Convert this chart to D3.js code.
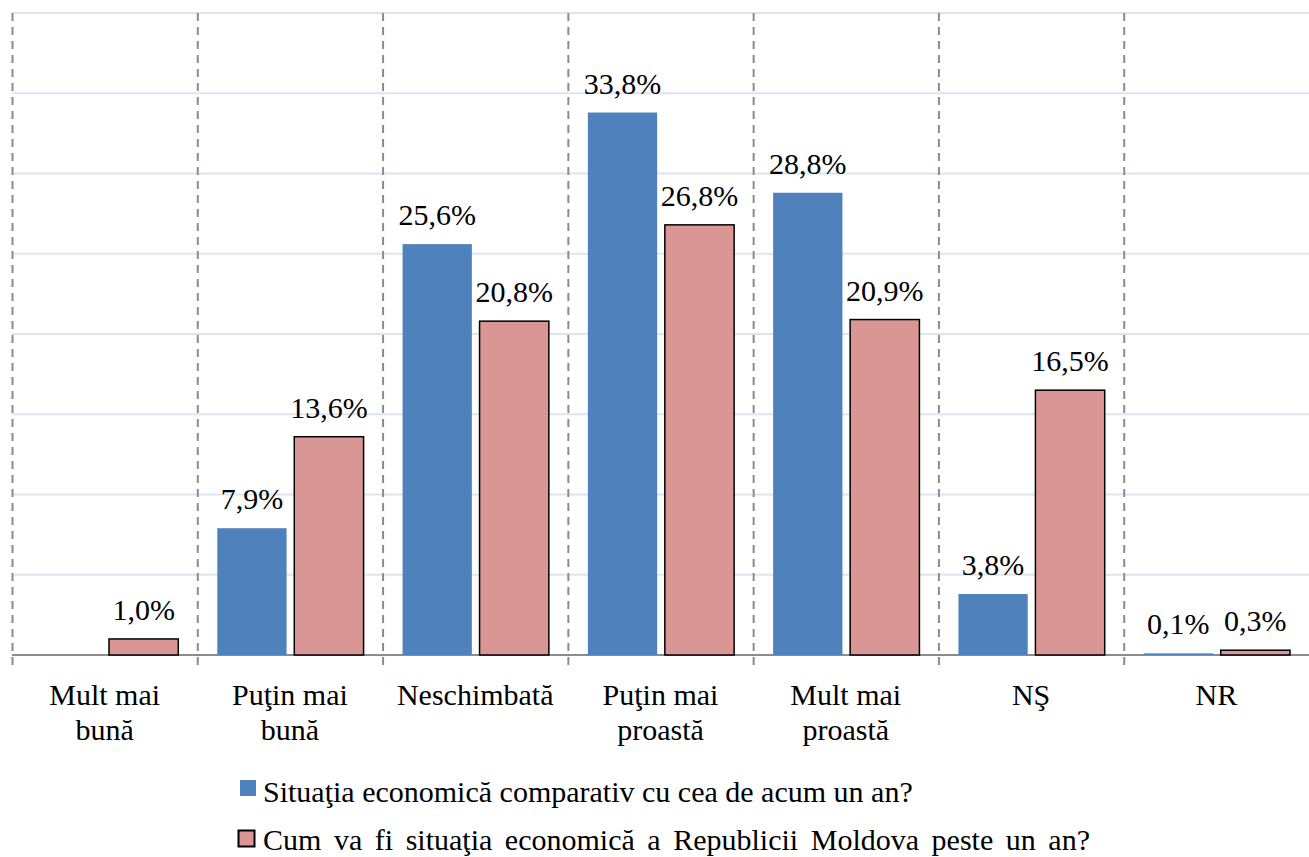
<!DOCTYPE html>
<html>
<head>
<meta charset="utf-8">
<script src="https://cdn.jsdelivr.net/npm/d3@7"></script>
</head>
<body style="margin:0">
<svg width="1309" height="857"></svg>
<script>
// data
categories = [["Mult mai", "bună"], ["Puţin mai", "bună"], ["Neschimbată"], ["Puţin mai", "proastă"], ["Mult mai", "proastă"], ["NŞ"], ["NR"]];
seriesNames = ["Situaţia economică comparativ cu cea de acum un an?", "Cum va fi situaţia economică a Republicii Moldova peste un an?"];
seriesNow = [0, 7.9, 25.6, 33.8, 28.8, 3.8, 0.1];
seriesNext = [1.0, 13.6, 20.8, 26.8, 20.9, 16.5, 0.3];
yTicks = [0, 5, 10, 15, 20, 25, 30, 35, 40];

const fills = ["#4f81bd", "#d99694"];
const strokes = [null, "#000"];
const fontName = "Liberation Serif";
const fontSize = 30;

const svg = d3.select("svg");
const plotLeft = 12, plotRight = 1309, base = 655, plotTop = 13;

const x = d3.scaleBand()
    .domain(d3.range(categories.length))
    .range([plotLeft, plotRight]);

const xs = d3.scaleBand()
    .domain([0, 1])
    .range([20, x.bandwidth() - 19])
    .paddingInner(0.1);

const y = d3.scaleLinear()
    .domain([0, 40])
    .range([base, plotTop]);

const fmt = v => d3.format(".1f")(v).replace(".", ",") + "%";

// horizontal gridlines
svg.selectAll("line.grid")
  .data(yTicks.slice(1))
  .join("line")
    .attr("class", "grid")
    .attr("x1", plotLeft).attr("x2", plotRight)
    .attr("y1", d => y(d)).attr("y2", d => y(d))
    .attr("stroke", "#dce6f2")
    .attr("stroke-width", 2);

// vertical dashed separators
svg.selectAll("line.sep")
  .data(d3.range(categories.length))
  .join("line")
    .attr("class", "sep")
    .attr("x1", d => x(d) + 0.5).attr("x2", d => x(d) + 0.5)
    .attr("y1", plotTop).attr("y2", base + 10)
    .attr("stroke", "#8c8c8c")
    .attr("stroke-width", 2)
    .attr("stroke-dasharray", "8,6");

// baseline
svg.append("line")
    .attr("x1", plotLeft).attr("x2", plotRight)
    .attr("y1", base).attr("y2", base)
    .attr("stroke", "#8c8c8c")
    .attr("stroke-width", 2);

const data = [seriesNow, seriesNext];

data.forEach(function(vals, s) {
  const pts = vals.map((v, i) => ({v, i})).filter(d => d.v > 0);
  svg.selectAll("rect.s" + s)
    .data(pts)
    .join("rect")
      .attr("class", "s" + s)
      .attr("x", d => x(d.i) + xs(s))
      .attr("y", d => y(d.v))
      .attr("width", xs.bandwidth())
      .attr("height", d => Math.max(base - y(d.v), 1.5))
      .attr("fill", fills[s])
      .attr("stroke", strokes[s])
      .attr("stroke-width", strokes[s] ? 1.5 : 0);

  svg.selectAll("text.v" + s)
    .data(pts)
    .join("text")
      .attr("class", "v" + s)
      .attr("x", d => x(d.i) + xs(s) + xs.bandwidth() / 2)
      .attr("y", d => y(d.v) - 19)
      .attr("text-anchor", "middle")
      .attr("font-size", fontSize)
      .style("font-family", fontName)
      .text(d => fmt(d.v));
});

// category labels
svg.selectAll("text.cat")
  .data(categories)
  .join("text")
    .attr("class", "cat")
    .attr("x", (d, i) => x(i) + x.bandwidth() / 2)
    .attr("y", 705)
    .attr("text-anchor", "middle")
    .attr("font-size", fontSize)
    .style("font-family", fontName)
    .selectAll("tspan")
    .data(d => d)
    .join("tspan")
      .attr("x", function() { return this.parentNode.getAttribute("x"); })
      .attr("dy", (d, i) => i ? 35 : 0)
      .text(d => d);

// legend
const legendWidths = [689, 827];
seriesNames.forEach(function(name, s) {
  const ly = 802 + s * 48;
  svg.append("rect")
      .attr("x", s ? 238.5 : 240).attr("y", s ? ly - 19.5 : ly - 22)
      .attr("width", 16).attr("height", 16)
      .attr("fill", fills[s])
      .attr("stroke", strokes[s] ? "#000" : null)
      .attr("stroke-width", strokes[s] ? 2 : 0);
  const t = svg.append("text")
      .attr("x", 263).attr("y", ly)
      .attr("font-size", fontSize)
      .style("font-family", fontName)
      .text(name);
  // the second legend line is justified in the original
  if (s === 1) {
    const w = t.node().getComputedTextLength();
    const gaps = name.split(" ").length - 1;
    const extra = (legendWidths[s] - w) / gaps;
    if (extra > 0) t.attr("word-spacing", extra);
  }
});
</script>
</body>
</html>
